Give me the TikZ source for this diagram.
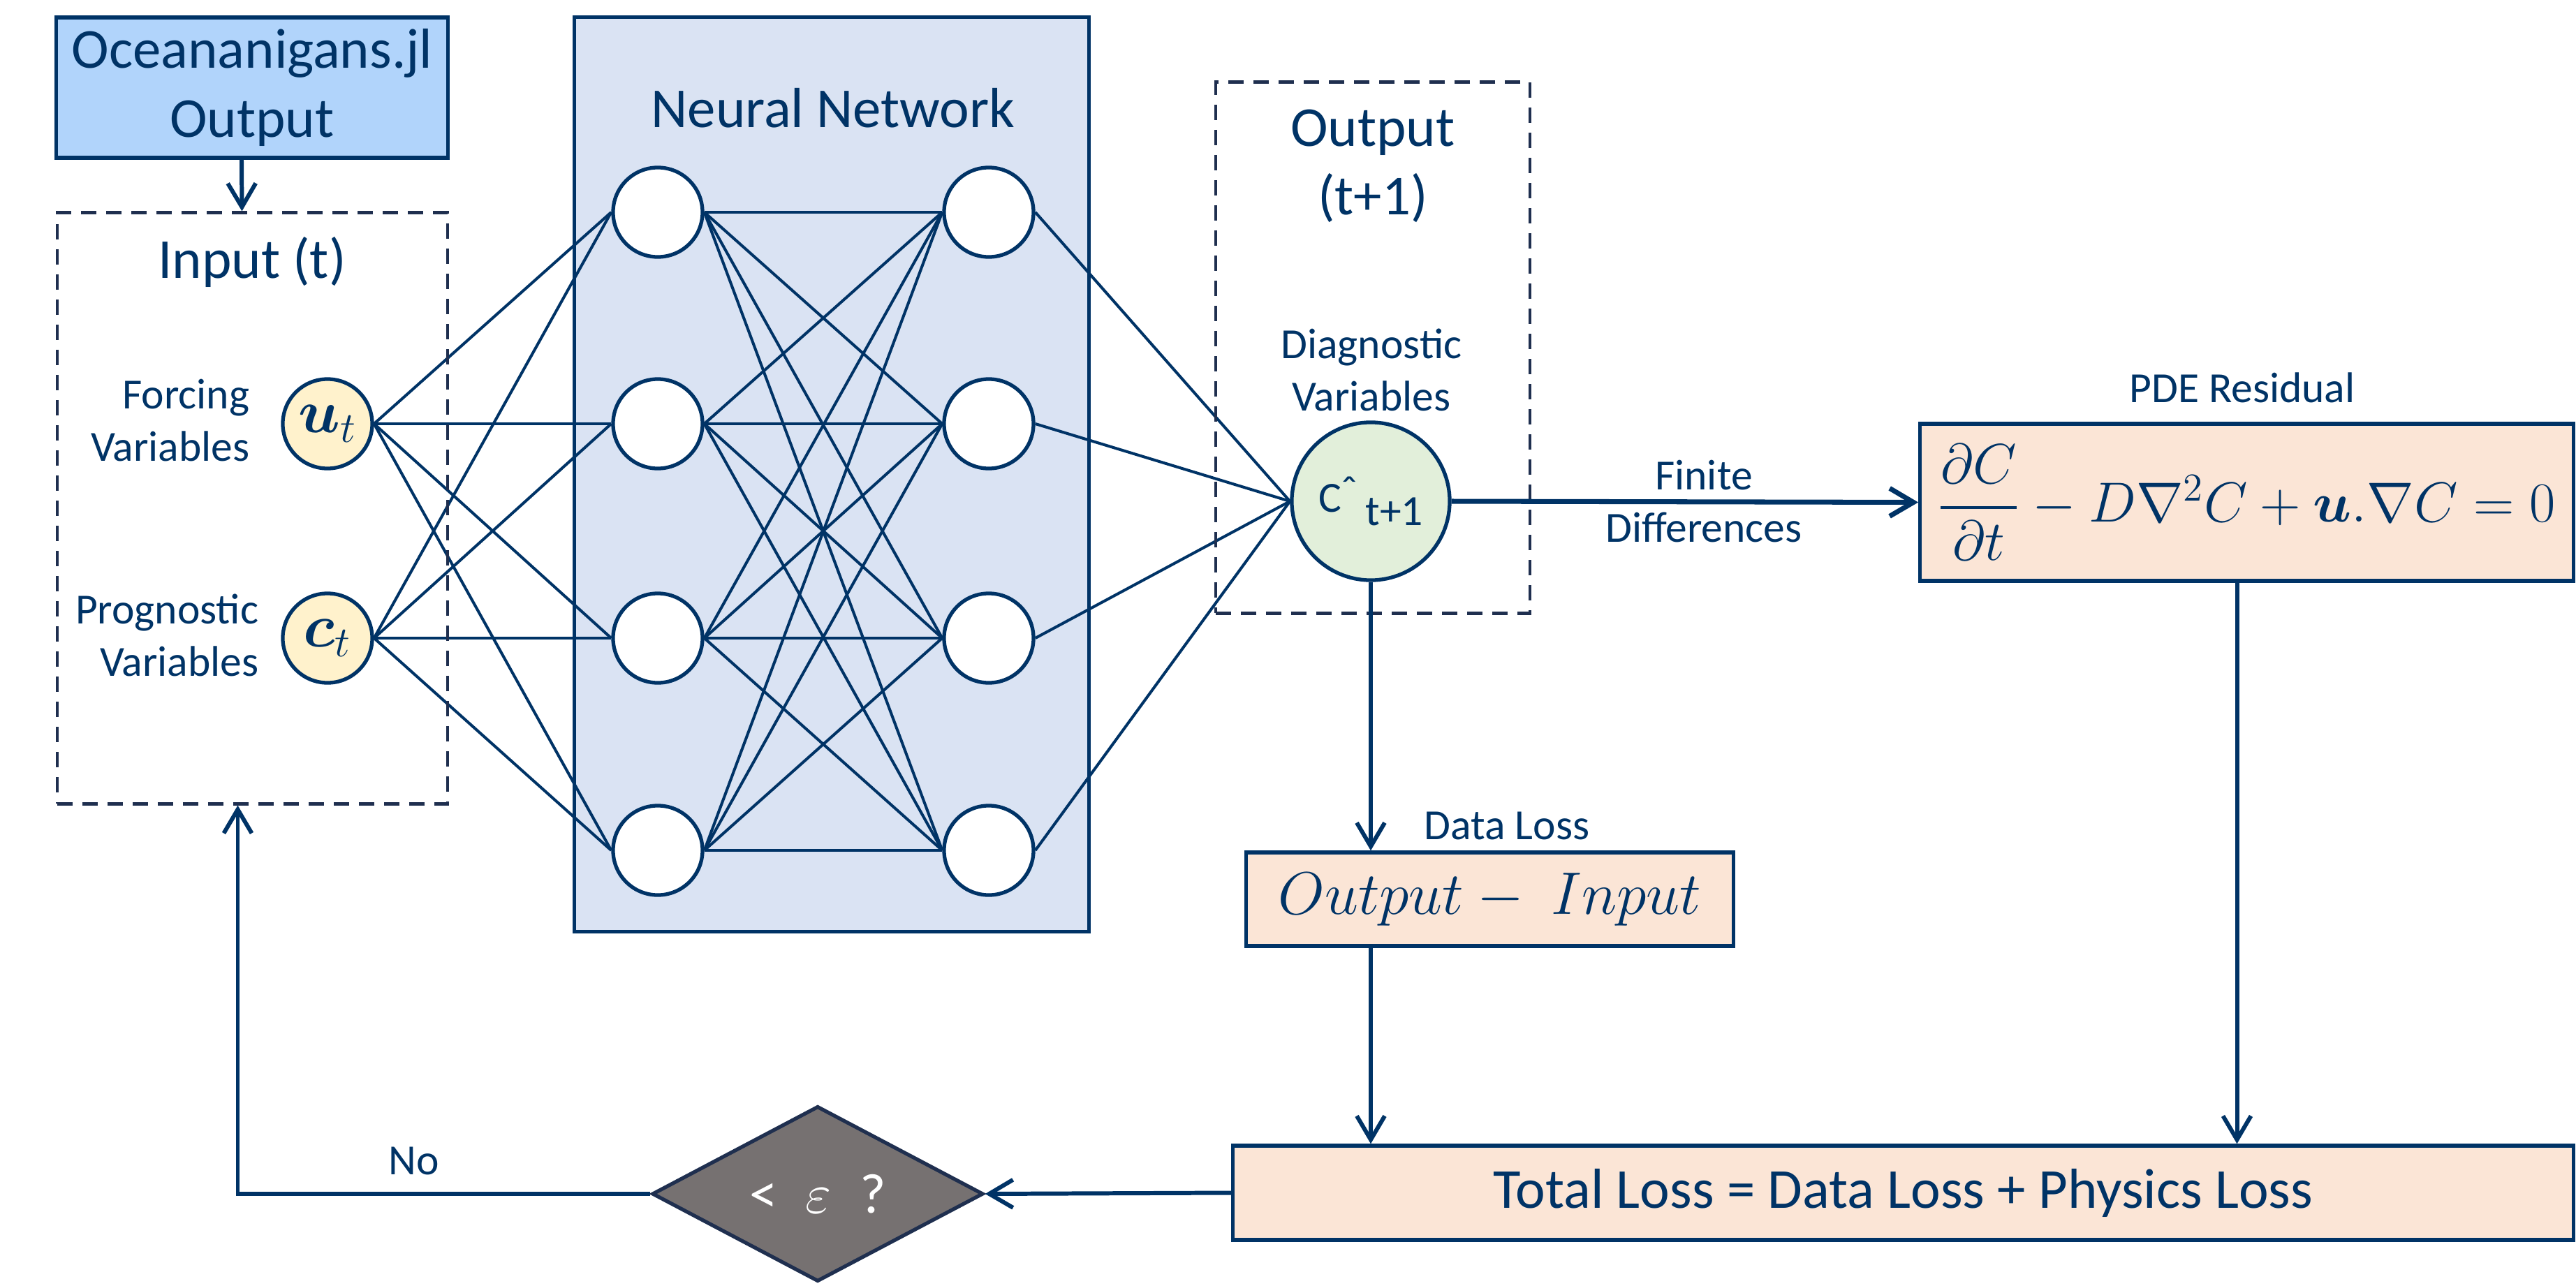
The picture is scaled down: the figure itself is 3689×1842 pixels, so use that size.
\documentclass[tikz,border=0pt]{standalone}
\usepackage{fix-cm}
\usepackage{amsmath,bm}
\usepackage{fontspec}
\setmainfont{Carlito}
\usetikzlibrary{arrows.meta,shapes.geometric}
\definecolor{navy}{HTML}{003366}
\definecolor{dashnavy}{HTML}{1F2F4F}
\definecolor{oceanblue}{HTML}{B1D4FB}
\definecolor{nnfill}{HTML}{DAE3F3}
\definecolor{yelfill}{HTML}{FFF2CC}
\definecolor{grnfill}{HTML}{E2EFDA}
\definecolor{peach}{HTML}{FBE5D6}
\definecolor{diagray}{HTML}{767171}
\newcommand{\bigf}{\fontsize{23}{28}\selectfont}
\newcommand{\smallf}{\fontsize{17.5}{21.5}\selectfont}
\newcommand{\mathf}{\fontsize{25}{30}\selectfont}
\pgfdeclarelayer{back}
\pgfdeclarelayer{mid}
\pgfsetlayers{back,mid,main}
\tikzset{
  lbl/.style={inner sep=0pt, text=navy, font=\smallf, align=center},
  biglbl/.style={inner sep=0pt, text=navy, font=\bigf, align=center},
  solidbox/.style={rectangle, draw=navy, line width=1.5pt, inner sep=0pt, text=navy},
  dbox/.style={rectangle, draw=dashnavy, line width=1.3pt, dash pattern=on 0.22cm off 0.14cm, inner sep=0pt},
  neuron/.style={circle, draw=navy, line width=1.5pt, fill=white, minimum size=1.28cm, inner sep=0pt, text=navy},
  conn/.style={draw=navy, line width=1.15pt},
  arr/.style={draw=navy, line width=1.7pt, -{Straight Barb[length=0.34cm,width=0.4cm]}},
}
\begin{document}
\begin{tikzpicture}[x=0.01cm,y=-0.01cm]
\useasboundingbox (0,0) rectangle (3689,1842);

% Neural network box (background)
\begin{pgfonlayer}{back}
\node[solidbox, fill=nnfill, minimum width=7.36cm, minimum height=13.09cm] (nn) at (1191,679.5) {};
\end{pgfonlayer}
\node[biglbl] (nntitle) at (1193,155) {Neural Network};

% Oceananigans box
\node[solidbox, fill=oceanblue, minimum width=5.6cm, minimum height=2.01cm, font=\bigf, align=center] (ocean) at (361,125.5) {Oceananigans.jl\\Output};

% Input dashed box
\node[dbox, minimum width=5.59cm, minimum height=8.46cm] (inbox) at (361.5,728) {};
\node[biglbl, anchor=base] (intitle) at (361,398) {Input (t)};
\node[lbl, align=right, anchor=east] (forcing) at (358,602) {Forcing\\Variables};
\node[lbl, align=right, anchor=east] (progn) at (371,910) {Prognostic\\Variables};
\node[neuron, fill=yelfill, font=\mathf] (ut) at (469,607) {$\bm{u}_t$};
\node[neuron, fill=yelfill, font=\mathf] (ct) at (469,914) {$\bm{c}_t$};

% Hidden layers
\foreach \i/\y in {1/304,2/607,3/914,4/1218}{
  \node[neuron] (a\i) at (942,\y) {};
  \node[neuron] (b\i) at (1416,\y) {};
}

% Output dashed box
\node[dbox, minimum width=4.5cm, minimum height=7.6cm] (outbox) at (1966,498) {};
\node[biglbl] (outtitle) at (1966,238) {Output\\(t+1)};
\node[lbl] (diag) at (1964,530) {Diagnostic\\Variables};
\node[neuron, fill=grnfill, minimum size=2.26cm, font=\smallf] (chat) at (1963,718)
  {C\raisebox{0.15em}{\symbol{"02C6}}\,\raisebox{-0.3em}{t+1}};

% PDE residual
\node[lbl] (pdelbl) at (3211,555) {PDE Residual};
\node[solidbox, fill=peach, minimum width=9.35cm, minimum height=2.25cm, font=\fontsize{23}{28}\selectfont] (pde) at (3217.5,719.5)
  {$\dfrac{\partial C}{\partial t} - D\nabla^2 C + \bm{u}.\nabla C = 0$};
\node[lbl] (fd) at (2440,718) {Finite\\Differences};

% Data loss
\node[lbl] (dllbl) at (2158,1183) {Data Loss};
\node[solidbox, fill=peach, minimum width=6.97cm, minimum height=1.34cm, font=\fontsize{24.5}{29}\selectfont] (dl) at (2133.5,1288)
  {$Output -\ Input$};

% Total loss
\node[solidbox, fill=peach, minimum width=19.19cm, minimum height=1.35cm, font=\bigf] (tl) at (2725.5,1708.5)
  {Total Loss = Data Loss + Physics Loss};

% Decision diamond
\node[diamond, aspect=1.9, draw=dashnavy, line width=1.5pt, fill=diagray, minimum width=4.74cm, minimum height=2.51cm, inner sep=0pt, text=white, font=\bigf] (dia) at (1171,1710)
  {<\enspace$\varepsilon$\enspace?};
\node[lbl] (no) at (593,1663) {No};

% Network connections
\begin{pgfonlayer}{mid}
\foreach \i in {1,...,4}{
  \draw[conn] (ut.east) -- (a\i.west);
  \draw[conn] (ct.east) -- (a\i.west);
  \draw[conn] (b\i.east) -- (chat.west);
  \foreach \j in {1,...,4}{
    \draw[conn] (a\i.east) -- (b\j.west);
  }
}
\end{pgfonlayer}

% Flow arrows
\draw[arr] ([xshift=-0.15cm]ocean.south) -- ([xshift=-0.15cm]inbox.north);
\draw[arr, line width=2pt] (chat.east) -- (pde.west);
\draw[arr] (chat.south) -- (chat.south |- dl.north);
\draw[arr] (dl.south -| chat.south) -- (tl.north -| chat.south);
\draw[arr] ([xshift=-0.14cm]pde.south) -- ([xshift=-0.14cm]pde.south |- tl.north);
\draw[arr] (tl.west) -- (dia.east);
\draw[arr] (dia.west) -| ([xshift=-0.21cm]inbox.south);
\end{tikzpicture}
\end{document}
